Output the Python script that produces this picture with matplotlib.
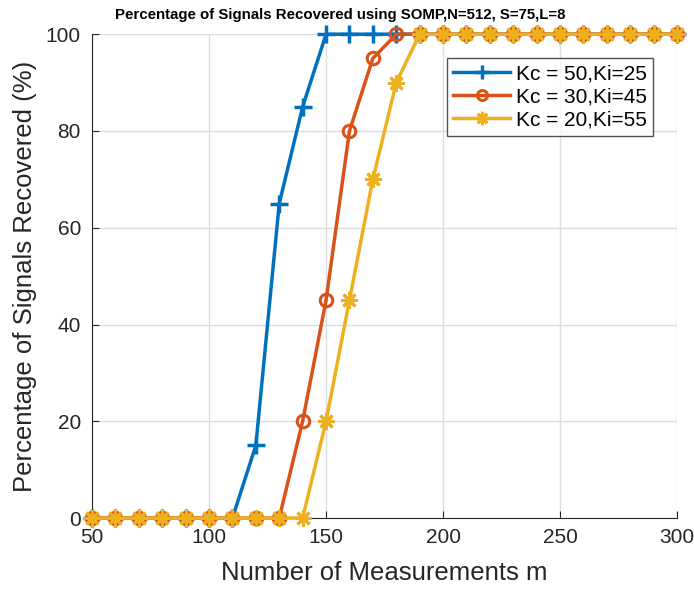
import matplotlib
matplotlib.use("Agg")
import matplotlib.pyplot as plt

plt.rcParams['font.family'] = ['Liberation Sans', 'DejaVu Sans']

m = [50, 60, 70, 80, 90, 100, 110, 120, 130, 140, 150, 160, 170, 180, 190,
     200, 210, 220, 230, 240, 250, 260, 270, 280, 290, 300]
kc50 = [0, 0, 0, 0, 0, 0, 0, 15, 65, 85, 100, 100, 100, 100, 100,
        100, 100, 100, 100, 100, 100, 100, 100, 100, 100, 100]
kc30 = [0, 0, 0, 0, 0, 0, 0, 0, 0, 20, 45, 80, 95, 100, 100,
        100, 100, 100, 100, 100, 100, 100, 100, 100, 100, 100]
kc20 = [0, 0, 0, 0, 0, 0, 0, 0, 0, 0, 20, 45, 70, 90, 100,
        100, 100, 100, 100, 100, 100, 100, 100, 100, 100, 100]
labels = ['Kc = 50,Ki=25', 'Kc = 30,Ki=45', 'Kc = 20,Ki=55']

fig = plt.figure(figsize=(6.94, 5.9), dpi=100)
ax = fig.add_axes([0.1326, 0.122, 0.843, 0.820])

ax.plot(m, kc50, '-', marker='+', color='#0072BD', lw=2.5, ms=13, mew=2.5,
        label=labels[0], clip_on=False, zorder=3)
ax.plot(m, kc30, '-', marker='o', color='#D95319', lw=2.5, ms=9, mew=2.2, mfc='none',
        label=labels[1], clip_on=False, zorder=4)
ax.plot(m, kc20, '-', marker=(8, 2, 0), color='#EDB120', lw=2.5, ms=12, mew=2.2,
        label=labels[2], clip_on=False, zorder=5)

ax.set_xlim(50, 300)
ax.set_ylim(0, 100)
ax.set_xticks([50, 100, 150, 200, 250, 300])
ax.set_yticks([0, 20, 40, 60, 80, 100])
ax.grid(True, color='#dcdcdc', lw=1)
ax.set_axisbelow(True)
for s in ['top', 'right']:
    ax.spines[s].set_visible(False)
for s in ['left', 'bottom']:
    ax.spines[s].set_color('#262626')
ax.tick_params(direction='in', labelsize=15, colors='#262626', length=5)
ax.tick_params(axis='x', pad=7)
ax.tick_params(axis='y', pad=8)

ax.set_xlabel('Number of Measurements m', fontsize=18.5, color='#262626', labelpad=10)
ax.set_ylabel('Percentage of Signals Recovered (%)', fontsize=18.5, color='#262626', labelpad=6)
ax.set_title('Percentage of Signals Recovered using SOMP,N=512, S=75,L=8',
             fontsize=10.8, fontweight='bold', pad=11, x=0.425)

leg = ax.legend(loc='upper right', bbox_to_anchor=(0.977, 0.972), fontsize=15,
                frameon=True, fancybox=False, edgecolor='#262626',
                handlelength=2.7, handletextpad=0.3, borderpad=0.3,
                labelspacing=0.2, markerscale=0.8)
leg.get_frame().set_linewidth(1.0)
leg.set_zorder(10)

fig.savefig('out.png', dpi=100)
